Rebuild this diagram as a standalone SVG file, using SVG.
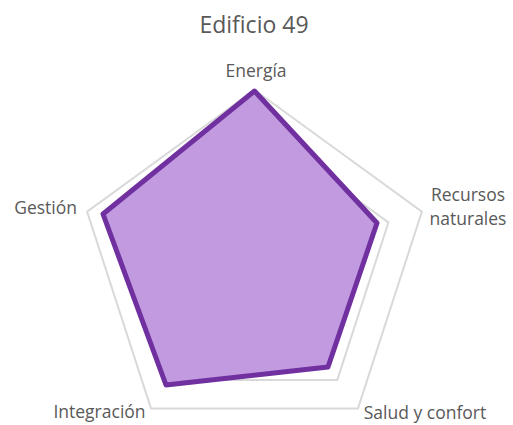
<svg xmlns="http://www.w3.org/2000/svg" width="513" height="425" viewBox="0 0 513 425">
  <style>
    .grid { fill: none; stroke: #d9d9d9; stroke-width: 2; }
    .series { fill: #c29ae0; stroke: #7030a0; stroke-width: 5; stroke-linejoin: round; }
    .lbl { font-family: "Open Sans", "Liberation Sans", sans-serif; font-size: 17.5px; fill: #595959; }
    .title { font-family: "Open Sans", "Liberation Sans", sans-serif; font-size: 23px; fill: #595959; }
  </style>
  <rect width="513" height="425" fill="#ffffff"/>
  <text class="title" x="254" y="33" text-anchor="middle">Edificio 49</text>
  <g id="gridlines">
    <polygon class="grid" points="254.5,230.8 288.0,255.1 275.2,294.5 233.8,294.5 221.0,255.1"/>
    <polygon class="grid" points="254.5,195.6 321.5,244.2 295.9,323.0 213.1,323.0 187.5,244.2"/>
    <polygon class="grid" points="254.5,160.4 354.9,233.4 316.6,351.4 192.4,351.4 154.1,233.4"/>
    <polygon class="grid" points="254.5,125.2 388.4,222.5 337.3,379.9 171.7,379.9 120.6,222.5"/>
    <polygon class="grid" points="254.5,90 421.9,211.6 358.0,408.4 151.0,408.4 87.1,211.6"/>
  </g>
  <g id="series">
    <polygon class="series" points="254.5,91 377,223 328,367 166,385 103,214"/>
  </g>
  <g id="label-energia"><text class="lbl" x="256" y="77" text-anchor="middle">Energía</text></g>
  <g id="label-recursos"><text class="lbl" x="468" y="201" text-anchor="middle">Recursos</text><text class="lbl" x="468" y="225" text-anchor="middle">naturales</text></g>
  <g id="label-salud"><text class="lbl" x="425" y="419" text-anchor="middle">Salud y confort</text></g>
  <g id="label-integracion"><text class="lbl" x="99.5" y="418" text-anchor="middle">Integración</text></g>
  <g id="label-gestion"><text class="lbl" x="77" y="214" text-anchor="end">Gestión</text></g>
</svg>
